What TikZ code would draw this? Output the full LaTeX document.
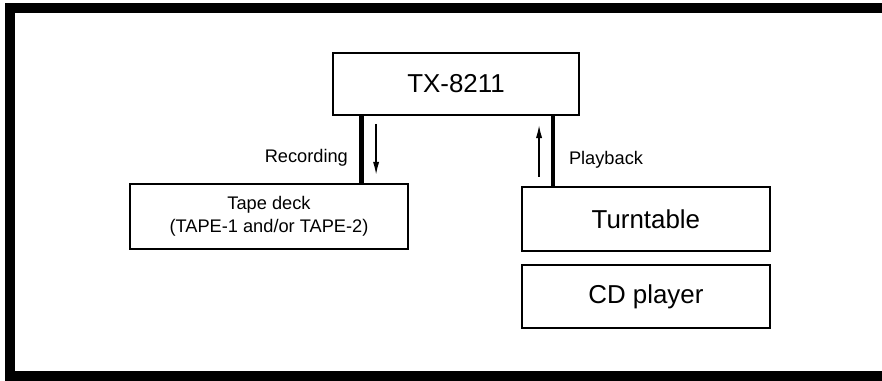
\documentclass[tikz,border=0pt]{standalone}
\usepackage{fontspec}
\setmainfont{Liberation Sans}
\usetikzlibrary{arrows.meta, positioning, calc}

\begin{document}
\begin{tikzpicture}[
        unit/.style={draw, line width=0.6mm, minimum width=8.75cm,
                     minimum height=2.24cm, align=center, inner sep=0pt,
                     font=\fontsize{26}{30}\selectfont},
        small/.style={font=\fontsize{18.3}{23}\selectfont, inner sep=0pt},
        bus/.style={line width=1.7mm},
        arr/.style={-{Latex[length=4.6mm, width=2.2mm]}, line width=0.5mm}
      ]
        \useasboundingbox (0,0) rectangle (31.12,-13.44);
        % frame, open on the right
        \draw[line width=3.5mm] (31.12,-0.28) -- (0.35,-0.28)
              -- (0.35,-13.28) -- (31.12,-13.28);

        \node[unit, minimum width=8.68cm, minimum height=2.19cm] (tx)
              at (16.09,-2.96) {TX-8211};
        \node[unit, minimum width=9.81cm, minimum height=2.29cm,
              font=\fontsize{18.3}{23}\selectfont] (tape) at (9.49,-7.64)
              {Tape deck\\(TAPE-1 and/or TAPE-2)};
        \node[unit] (turn) at (22.79,-7.73) {Turntable};
        \node[unit, minimum height=2.22cm] (cd) at (22.79,-10.46) {CD player};

        \coordinate (recx) at (12.75,0);
        \coordinate (playx) at (19.51,0);
        \draw[bus] (tx.south -| recx) -- (tape.north -| recx);
        \draw[bus] (tx.south -| playx) -- (turn.north -| playx);

        \coordinate (downA) at (13.27,-4.37);
        \coordinate (downB) at (13.27,-6.17);
        \coordinate (upA) at (19.02,-6.24);
        \coordinate (upB) at (19.02,-4.41);
        \draw[arr] (downA) -- (downB);
        \draw[arr] (upA) -- (upB);

        \node[small, anchor=east] (rec) at (12.28,-5.57) {Recording};
        \node[small, anchor=west] (play) at (20.07,-5.64) {Playback};
      \end{tikzpicture}
\end{document}
